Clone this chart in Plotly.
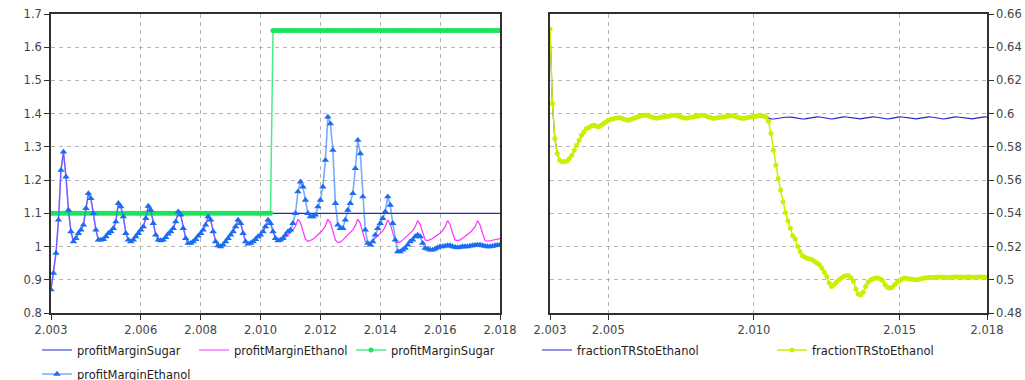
import plotly.graph_objects as go

# ---------------- data (monthly, Jan 2003 .. Jan 2018) ----------------
n_months = 181
months = [2003 + i / 12 for i in range(n_months)]

left_tickvals = [2003, 2006, 2008, 2010, 2012, 2014, 2016, 2018]
left_ticktext = ["2.003", "2.006", "2.008", "2.010", "2.012", "2.014", "2.016", "2.018"]
right_tickvals = [2003, 2005, 2010, 2015, 2018]
right_ticktext = ["2.003", "2.005", "2.010", "2.015", "2.018"]

left_yvals = [0.8, 0.9, 1.0, 1.1, 1.2, 1.3, 1.4, 1.5, 1.6, 1.7]
left_ytext = ["0.8", "0.9", "1", "1.1", "1.2", "1.3", "1.4", "1.5", "1.6", "1.7"]
right_yvals = [0.48, 0.50, 0.52, 0.54, 0.56, 0.58, 0.60, 0.62, 0.64, 0.66]
right_ytext = ["0.48", "0.5", "0.52", "0.54", "0.56", "0.58", "0.6", "0.62", "0.64", "0.66"]

# profitMarginSugar (reference line)
pm_sugar_line = [1.1] * 181

# profitMarginSugar (green, with markers): 1.1 until May 2010, then 1.65
pm_sugar_dots = [1.1] * 89 + [1.65] * 92

# profitMarginEthanol (blue triangles)
pm_ethanol_tri = [
    0.87, 0.92, 0.98, 1.08, 1.23, 1.285, 1.21, 1.11, 1.045, 1.015, 1.025, 1.04,      # 2003
    1.05, 1.065, 1.115, 1.16, 1.145, 1.10, 1.05, 1.02, 1.02, 1.022, 1.03, 1.04,      # 2004
    1.045, 1.055, 1.075, 1.13, 1.12, 1.09, 1.04, 1.02, 1.015, 1.02, 1.03, 1.04,      # 2005
    1.05, 1.06, 1.085, 1.122, 1.11, 1.07, 1.035, 1.02, 1.018, 1.02, 1.028, 1.038,    # 2006
    1.045, 1.055, 1.075, 1.105, 1.095, 1.055, 1.025, 1.01, 1.01, 1.015, 1.022, 1.032,  # 2007
    1.04, 1.05, 1.065, 1.09, 1.08, 1.045, 1.015, 1.003, 1.0, 1.005, 1.015, 1.025,    # 2008
    1.035, 1.045, 1.06, 1.08, 1.07, 1.04, 1.015, 1.008, 1.01, 1.015, 1.022, 1.03,    # 2009
    1.035, 1.045, 1.06, 1.08, 1.07, 1.045, 1.025, 1.018, 1.02, 1.025, 1.035, 1.045,  # 2010
    1.05, 1.07, 1.10, 1.165, 1.195, 1.18, 1.14, 1.10, 1.09, 1.09, 1.095, 1.12,       # 2011
    1.14, 1.18, 1.26, 1.39, 1.37, 1.29, 1.13, 1.065, 1.055, 1.055, 1.08, 1.11,       # 2012
    1.13, 1.16, 1.235, 1.32, 1.28, 1.15, 1.05, 1.01, 1.005, 1.015, 1.035, 1.055,     # 2013
    1.07, 1.085, 1.105, 1.15, 1.125, 1.07, 1.02, 0.985, 0.985, 0.99, 0.995, 1.005,   # 2014
    1.015, 1.02, 1.03, 1.035, 1.03, 1.01, 0.995, 0.993, 0.99, 0.99, 0.993, 0.997,    # 2015
    1.0, 1.0, 1.002, 1.003, 1.003, 1.0, 0.998, 0.997, 0.998, 1.0, 1.0, 1.0,          # 2016
    1.002, 1.003, 1.004, 1.005, 1.005, 1.003, 1.001, 1.0, 1.0, 1.001, 1.003, 1.004,  # 2017
    1.005,                                                                           # 2018
]

# profitMarginEthanol (magenta line)
pm_ethanol_line = [
    0.87, 0.92, 0.98, 1.08, 1.23, 1.285, 1.21, 1.11, 1.045, 1.015, 1.025, 1.04,      # 2003
    1.05, 1.065, 1.115, 1.16, 1.145, 1.10, 1.05, 1.02, 1.02, 1.022, 1.03, 1.04,      # 2004
    1.045, 1.055, 1.075, 1.13, 1.12, 1.09, 1.04, 1.02, 1.015, 1.02, 1.03, 1.04,      # 2005
    1.05, 1.06, 1.085, 1.122, 1.11, 1.07, 1.035, 1.02, 1.018, 1.02, 1.028, 1.038,    # 2006
    1.045, 1.055, 1.075, 1.105, 1.095, 1.055, 1.025, 1.01, 1.01, 1.015, 1.022, 1.032,  # 2007
    1.04, 1.05, 1.065, 1.09, 1.08, 1.045, 1.015, 1.003, 1.0, 1.005, 1.015, 1.025,    # 2008
    1.035, 1.045, 1.06, 1.08, 1.07, 1.04, 1.015, 1.008, 1.01, 1.015, 1.022, 1.03,    # 2009
    1.035, 1.045, 1.06, 1.08, 1.07, 1.045, 1.025, 1.018, 1.02, 1.022, 1.028, 1.035,  # 2010
    1.04, 1.05, 1.062, 1.082, 1.072, 1.045, 1.022, 1.016, 1.018, 1.022, 1.028, 1.035,  # 2011
    1.04, 1.05, 1.062, 1.082, 1.072, 1.045, 1.02, 1.012, 1.014, 1.02, 1.027, 1.034,  # 2012
    1.04, 1.05, 1.063, 1.082, 1.07, 1.04, 1.015, 1.01, 1.012, 1.018, 1.025, 1.032,   # 2013
    1.038, 1.047, 1.06, 1.08, 1.068, 1.04, 1.015, 1.012, 1.014, 1.02, 1.027, 1.034,  # 2014
    1.04, 1.048, 1.06, 1.078, 1.066, 1.04, 1.02, 1.018, 1.02, 1.024, 1.03, 1.035,    # 2015
    1.04, 1.048, 1.06, 1.078, 1.066, 1.04, 1.02, 1.018, 1.02, 1.025, 1.03, 1.036,    # 2016
    1.042, 1.05, 1.06, 1.078, 1.065, 1.04, 1.018, 1.016, 1.018, 1.02, 1.022, 1.024,  # 2017
    1.024,                                                                           # 2018
]

# fractionTRStoEthanol (yellow-green, with markers)
frac_dots = [
    0.651, 0.606, 0.585, 0.576, 0.572, 0.571, 0.5712, 0.5715, 0.573, 0.575, 0.578, 0.581,
    0.584, 0.587, 0.589, 0.591, 0.5915, 0.5925, 0.593, 0.5925, 0.592, 0.593, 0.594, 0.595,
    0.596, 0.5965, 0.597, 0.5972, 0.5975, 0.5975, 0.597, 0.5965, 0.596, 0.5965, 0.597, 0.5975,
    0.598, 0.5985, 0.599, 0.599, 0.599, 0.5985, 0.598, 0.5975, 0.5972, 0.5975, 0.598, 0.598,
    0.5983, 0.5985, 0.599, 0.599, 0.599, 0.5985, 0.598, 0.5975, 0.5973, 0.5975, 0.598, 0.598,
    0.5983, 0.5985, 0.599, 0.599, 0.5988, 0.5982, 0.5977, 0.5973, 0.5972, 0.5975, 0.5978, 0.598,
    0.5982, 0.5985, 0.5988, 0.5988, 0.5985, 0.598, 0.5976, 0.5973, 0.5972, 0.5975, 0.5978, 0.598,
    0.5983, 0.5985, 0.5987, 0.5987, 0.5986, 0.598, 0.5955, 0.588, 0.578, 0.569, 0.561, 0.554,
    0.547, 0.5405, 0.5355, 0.531, 0.5265, 0.5245, 0.52, 0.517, 0.5145, 0.5135, 0.513, 0.5125,
    0.512, 0.511, 0.51, 0.509, 0.507, 0.5045, 0.502, 0.498, 0.496, 0.497, 0.4985, 0.5,
    0.501, 0.502, 0.5025, 0.5025, 0.501, 0.499, 0.4945, 0.4915, 0.491, 0.4925, 0.496, 0.4985,
    0.4998, 0.5005, 0.501, 0.501, 0.5005, 0.4995, 0.497, 0.4955, 0.495, 0.4955, 0.497, 0.4985,
    0.4995, 0.5005, 0.501, 0.5008, 0.5005, 0.5003, 0.5, 0.5, 0.5003, 0.5006, 0.501, 0.5012,
    0.5013, 0.5014, 0.5015, 0.5015, 0.5015, 0.5016, 0.5015, 0.5015, 0.5014, 0.5015, 0.5015, 0.5016,
    0.5016, 0.5015, 0.5015, 0.5015, 0.5016, 0.5016, 0.5015, 0.5015, 0.5015, 0.5016, 0.5016, 0.5015,
    0.5015,
]

# fractionTRStoEthanol (blue line): identical to the dotted series until May 2010
frac_line_tail = [
    0.598, 0.5973, 0.5969, 0.5968, 0.5969, 0.5971, 0.5974, 0.5977, 0.5979, 0.5981, 0.598, 0.5978,
    0.5975, 0.5971, 0.5969, 0.5968, 0.5969, 0.5972, 0.5975, 0.5978, 0.598, 0.5981, 0.598, 0.5977,
    0.5973, 0.597, 0.5968, 0.5968, 0.597, 0.5973, 0.5976, 0.5979, 0.5981, 0.598, 0.5978, 0.5975,
    0.5971, 0.5969, 0.5968, 0.5969, 0.5972, 0.5975, 0.5978, 0.598, 0.5981, 0.598, 0.5977, 0.5973,
    0.597, 0.5968, 0.5968, 0.597, 0.5973, 0.5976, 0.5979, 0.5981, 0.598, 0.5978, 0.5975, 0.5971,
    0.5969, 0.5968, 0.5969, 0.5972, 0.5975, 0.5978, 0.598, 0.5981, 0.598, 0.5977, 0.5973, 0.597,
    0.5968, 0.5968, 0.597, 0.5973, 0.5976, 0.5979, 0.5981, 0.598, 0.5978, 0.5975, 0.5971, 0.5969,
    0.5968, 0.5969, 0.5972, 0.5975, 0.5978, 0.598, 0.5981, 0.598,
]
frac_line = frac_dots[:89] + frac_line_tail

# ---------------- styling ----------------
FONT = "DejaVu Sans"
W, H = 1025, 380
navy = "#2424d0"
magenta = "#ff30ff"
green = "#1de35e"
blue = "#1a6cf2"
yellow = "#cdee00"

fig = go.Figure()

fig.add_trace(go.Scatter(x=months, y=pm_sugar_line, name="profitMarginSugar", mode="lines",
                         line=dict(color=navy, width=1.2), xaxis="x", yaxis="y", legend="legend"))
fig.add_trace(go.Scatter(x=months, y=pm_ethanol_line, name="profitMarginEthanol", mode="lines",
                         line=dict(color=magenta, width=1.2), xaxis="x", yaxis="y", legend="legend"))
fig.add_trace(go.Scatter(x=months, y=pm_sugar_dots, name="profitMarginSugar", mode="lines+markers",
                         line=dict(color="rgba(40,235,110,0.85)", width=1.5),
                         marker=dict(symbol="circle", size=5, color=green),
                         xaxis="x", yaxis="y", legend="legend"))
fig.add_trace(go.Scatter(x=months, y=pm_ethanol_tri, name="profitMarginEthanol", mode="lines+markers",
                         line=dict(color="rgba(30,115,255,0.6)", width=1.6),
                         marker=dict(symbol="triangle-up", size=6.5, color=blue),
                         xaxis="x", yaxis="y", legend="legend3"))

fig.add_trace(go.Scatter(x=months, y=frac_line, name="fractionTRStoEthanol", mode="lines",
                         line=dict(color=navy, width=1.2), xaxis="x2", yaxis="y2", legend="legend2"))
fig.add_trace(go.Scatter(x=months, y=frac_dots, name="fractionTRStoEthanol", mode="lines+markers",
                         line=dict(color=yellow, width=1.5),
                         marker=dict(symbol="circle", size=5, color=yellow),
                         xaxis="x2", yaxis="y2", legend="legend2"))


def px_x(page_x):
    return page_x / W


def px_y(page_y):
    return (H - page_y) / H


ydom = [px_y(313), px_y(14)]
axis_common = dict(showgrid=True, gridcolor="#b5b5b5", griddash="4px,4px", gridwidth=1,
                   showline=True, linecolor="#303030", linewidth=1.6, mirror=True,
                   ticks="outside", ticklen=5, tickcolor="#303030", zeroline=False,
                   tickfont=dict(family=FONT, size=11.5, color="#444444"), automargin=False,
                   ticklabeloverflow="allow")
legend_font = dict(family=FONT, size=11.5, color="#222222")

fig.update_layout(
    width=W, height=H,
    margin=dict(l=0, r=0, t=0, b=0, autoexpand=False),
    paper_bgcolor="white", plot_bgcolor="white",
    font=dict(family=FONT, size=11.5, color="#222222"),
    xaxis=dict(domain=[px_x(51), px_x(500)], range=[2003, 2018], tickvals=left_tickvals,
               ticktext=left_ticktext, anchor="y", **axis_common),
    yaxis=dict(domain=ydom, range=[0.8, 1.7], tickvals=left_yvals, ticktext=left_ytext,
               anchor="x", **axis_common),
    xaxis2=dict(domain=[px_x(550), px_x(987)], range=[2003, 2018], tickvals=right_tickvals,
                ticktext=right_ticktext, anchor="y2", **axis_common),
    yaxis2=dict(domain=ydom, range=[0.48, 0.66], tickvals=right_yvals, ticktext=right_ytext,
                anchor="x2", side="right", **axis_common),
    legend=dict(orientation="h", x=37 / W, xanchor="left", y=px_y(350), yanchor="middle",
                entrywidth=112, entrywidthmode="pixels", bgcolor="rgba(0,0,0,0)",
                font=legend_font),
    legend3=dict(orientation="h", x=37 / W, xanchor="left", y=px_y(374), yanchor="middle",
                 bgcolor="rgba(0,0,0,0)", font=legend_font),
    legend2=dict(orientation="h", x=537 / W, xanchor="left", y=px_y(350), yanchor="middle",
                 entrywidth=190, entrywidthmode="pixels", bgcolor="rgba(0,0,0,0)",
                 font=legend_font),
    showlegend=True,
)

# remove the browser's default page margin so the 1025x380 figure fills the window exactly
fig.write_html("out.html",
               config={"displayModeBar": False},
               post_script="document.body.style.margin='0';document.body.style.overflow='hidden';")
